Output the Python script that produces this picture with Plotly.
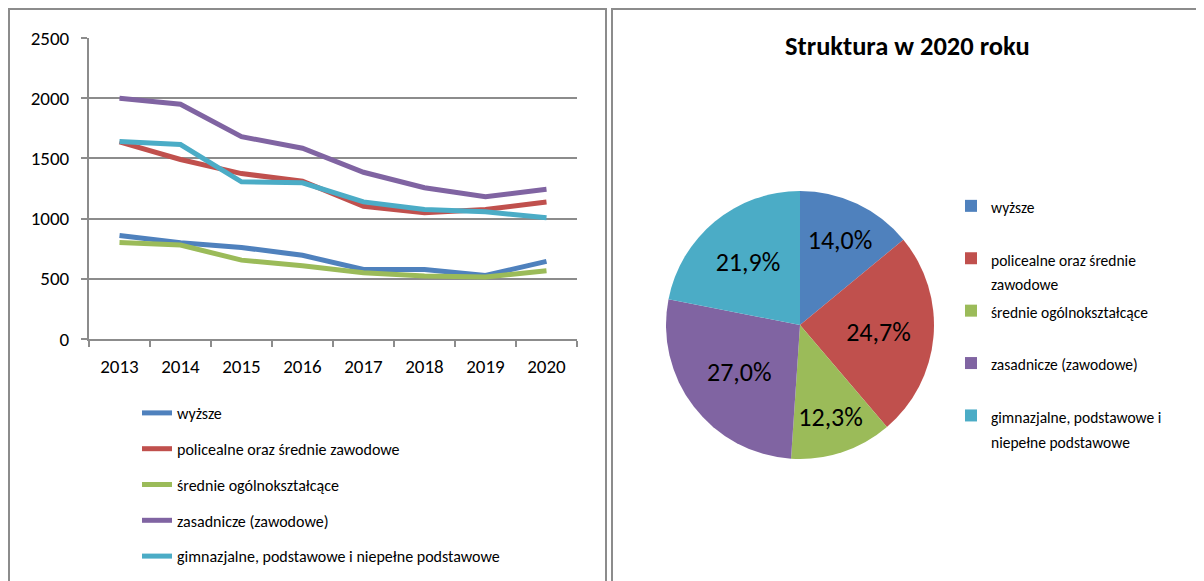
import plotly.graph_objects as go

# ---- data ----
years = ["2013", "2014", "2015", "2016", "2017", "2018", "2019", "2020"]
series_names = [
    "wyższe",
    "policealne oraz średnie zawodowe",
    "średnie ogólnokształcące",
    "zasadnicze (zawodowe)",
    "gimnazjalne, podstawowe i niepełne podstawowe",
]
wyzsze = [860, 800, 760, 695, 578, 578, 528, 645]
policealne = [1637, 1491, 1374, 1311, 1103, 1048, 1076, 1138]
srednie = [802, 780, 655, 608, 550, 523, 514, 566]
zasadnicze = [2000, 1950, 1680, 1585, 1385, 1256, 1181, 1243]
gimnazjalne = [1640, 1615, 1305, 1297, 1139, 1076, 1056, 1008]
colors = ["#4F81BD", "#C0504D", "#9BBB59", "#8064A2", "#4BACC6"]

pie_title = "Struktura w 2020 roku"
pie_label_lines = [
    ["wyższe", "\u00a0"],
    ["policealne oraz średnie", "zawodowe"],
    ["średnie ogólnokształcące", "\u00a0"],
    ["zasadnicze (zawodowe)", "\u00a0"],
    ["gimnazjalne, podstawowe i", "niepełne podstawowe"],
]
y_ticks = [0, 500, 1000, 1500, 2000, 2500]

all_series = [wyzsze, policealne, srednie, zasadnicze, gimnazjalne]
pie_values = [s[-1] for s in all_series]

# page body has an 8px margin; the figure is sized to fill the rest of the window
OFF = 8
W, H = 1204 - OFF, 581 - OFF
FONT = "Carlito, Lato, sans-serif"
LEG_SPAN = "<span style='font-size:15.5px'>{}</span>"
pie_labels = ["<br>".join(LEG_SPAN.format(t) for t in lines) for lines in pie_label_lines]


def px_x(p):
    return (p - OFF) / W


def px_y(p):
    return 1 - (p - OFF) / H


fig = go.Figure()

for name, vals, col in zip(series_names, all_series, colors):
    fig.add_trace(go.Scatter(
        x=years, y=vals, name=name, mode="lines",
        line=dict(color=col, width=5),
        legend="legend", legendgroup=name,
        xaxis="x", yaxis="y",
    ))

fig.add_trace(go.Pie(
    labels=pie_labels, values=pie_values, sort=False,
    direction="clockwise", rotation=0,
    marker=dict(colors=colors, line=dict(width=0)),
    texttemplate="%{percent:.1%}", textposition="inside",
    insidetextorientation="horizontal",
    textfont=dict(size=26, color="black", family=FONT),
    domain=dict(x=[px_x(666), px_x(934)], y=[px_y(459), px_y(191)]),
    legend="legend2", hoverinfo="value+percent",
))

grid_col = "#8c8c8c"
fig.update_layout(
    width=W, height=H,
    margin=dict(l=0, r=0, t=0, b=0, autoexpand=False),
    paper_bgcolor="white", plot_bgcolor="white",
    separators=", ",
    font=dict(family=FONT, color="black"),
    xaxis=dict(
        domain=[px_x(89), px_x(577)], type="category",
        range=[-0.5, len(years) - 0.5],
        showgrid=False, showline=True, linecolor=grid_col, linewidth=2,
        ticks="outside", tickson="boundaries", ticklen=6, tickcolor=grid_col,
        tickwidth=2, tickfont=dict(size=19, family=FONT), anchor="y",
        ticklabelstandoff=9, fixedrange=True,
    ),
    yaxis=dict(
        domain=[px_y(339), px_y(38)], range=[0, 2500],
        tickvals=y_ticks, showgrid=True, gridcolor=grid_col, gridwidth=2,
        showline=True, linecolor=grid_col, linewidth=2,
        ticks="outside", ticklen=6, tickcolor=grid_col, tickwidth=2,
        tickfont=dict(size=19, family=FONT), ticklabelstandoff=8,
        zeroline=False, anchor="x", fixedrange=True,
    ),
    legend=dict(
        x=px_x(137), y=px_y(396), xanchor="left", yanchor="top",
        font=dict(size=16, family=FONT), tracegroupgap=12,
        bgcolor="rgba(0,0,0,0)",
    ),
    legend2=dict(
        x=px_x(951), y=px_y(187), xanchor="left", yanchor="top",
        font=dict(size=19, family=FONT), valign="top",
        bgcolor="rgba(0,0,0,0)",
    ),
    annotations=[dict(
        text="<b>" + pie_title + "</b>", x=px_x(907), y=px_y(46),
        xref="paper", yref="paper", showarrow=False,
        font=dict(size=26.5, family=FONT), xanchor="center", yanchor="middle",
    )],
    shapes=[
        dict(type="rect", xref="paper", yref="paper",
             x0=px_x(9), x1=px_x(606), y0=px_y(600), y1=px_y(9),
             line=dict(color="#8c8c8c", width=2)),
        dict(type="rect", xref="paper", yref="paper",
             x0=px_x(612), x1=px_x(1210), y0=px_y(600), y1=px_y(9),
             line=dict(color="#8c8c8c", width=2)),
    ],
)

fig.write_html("out.html")
